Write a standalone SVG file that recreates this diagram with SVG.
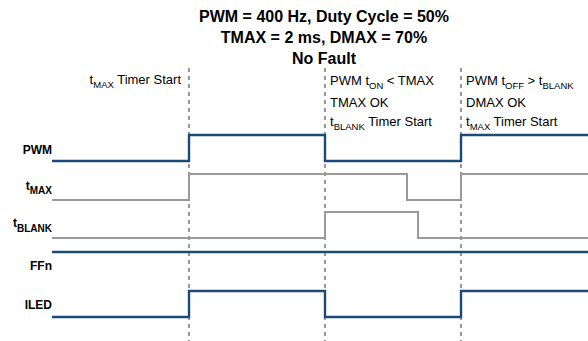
<svg xmlns="http://www.w3.org/2000/svg" width="588" height="341" viewBox="0 0 588 341">
<style>
.t{font-family:"Liberation Sans",Arial,sans-serif;font-weight:bold;font-size:16px;fill:#000}
.lb{font-family:"Liberation Sans",Arial,sans-serif;font-weight:bold;font-size:12px;fill:#000}
.an{font-family:"Liberation Sans",Arial,sans-serif;font-size:13px;fill:#000}
.sub{font-size:9.5px}
.lsub{font-size:10px}
.blue{fill:none;stroke:#1b4a78;stroke-width:2.4}
.gray{fill:none;stroke:#9a9a9a;stroke-width:2}
.dash{fill:none;stroke:#555;stroke-width:1.2;stroke-dasharray:4,4}
</style>
<g id="title">
<text class="t" x="324" y="22" text-anchor="middle">PWM = 400 Hz, Duty Cycle = 50%</text>
<text class="t" x="324" y="43" text-anchor="middle">TMAX = 2 ms, DMAX = 70%</text>
<text class="t" x="324" y="64" text-anchor="middle">No Fault</text>
</g>
<g id="markers">
<line class="dash" x1="189" y1="68" x2="189" y2="341"/>
<line class="dash" x1="325" y1="68" x2="325" y2="341"/>
<line class="dash" x1="461" y1="68" x2="461" y2="341"/>
</g>
<g id="annotations">
<text class="an" x="181" y="84" text-anchor="end">t<tspan class="sub" dy="4">MAX</tspan><tspan dy="-4"> Timer Start</tspan></text>
<text class="an" x="330" y="85">PWM t<tspan class="sub" dy="4">ON</tspan><tspan dy="-4"> &lt; TMAX</tspan></text>
<text class="an" x="330" y="107">TMAX OK</text>
<text class="an" x="330" y="126">t<tspan class="sub" dy="4">BLANK</tspan><tspan dy="-4"> Timer Start</tspan></text>
<text class="an" x="466" y="85">PWM t<tspan class="sub" dy="4">OFF</tspan><tspan dy="-4"> &gt; t</tspan><tspan class="sub" dy="4">BLANK</tspan></text>
<text class="an" x="466" y="107">DMAX OK</text>
<text class="an" x="466" y="126">t<tspan class="sub" dy="4">MAX</tspan><tspan dy="-4"> Timer Start</tspan></text>
</g>
<g id="labels">
<text class="lb" x="52" y="154" text-anchor="end">PWM</text>
<text class="lb" x="52" y="190" text-anchor="end">t<tspan class="lsub" dy="4">MAX</tspan></text>
<text class="lb" x="52" y="227" text-anchor="end">t<tspan class="lsub" dy="5">BLANK</tspan></text>
<text class="lb" x="52" y="270" text-anchor="end">FFn</text>
<text class="lb" x="52" y="309" text-anchor="end">ILED</text>
</g>
<g id="signals">
<polyline id="pwm" class="blue" points="52,161 189,161 189,135 325,135 325,161 461,161 461,135 588,135"/>
<polyline id="tmax" class="gray" points="52,200 189,200 189,174 407,174 407,200 461,200 461,174 588,174"/>
<polyline id="tblank" class="gray" points="52,238 325,238 325,212 418,212 418,238 588,238"/>
<polyline id="ffn" class="blue" points="52,252 588,252"/>
<polyline id="iled" class="blue" points="52,317 189,317 189,291 325,291 325,317 461,317 461,291 588,291"/>
</g>
</svg>
